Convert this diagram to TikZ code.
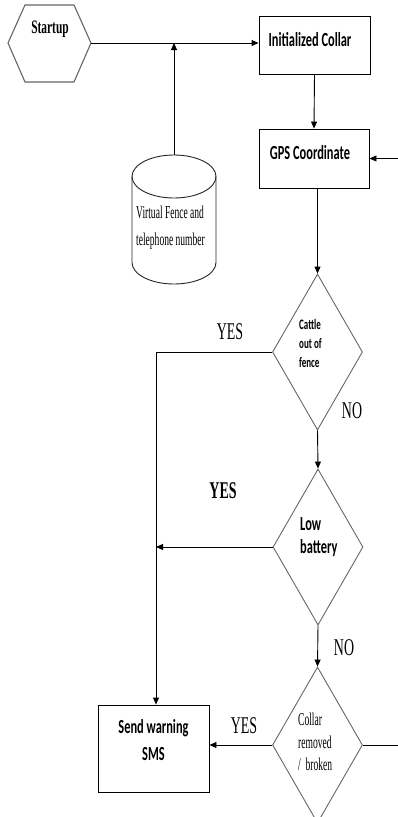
\documentclass[tikz,border=0pt]{standalone}
\usepackage{fontspec}
\usetikzlibrary{shapes.geometric,arrows.meta}
\newfontfamily\sansfam[FakeStretch=0.62]{Carlito}
\newfontfamily\serfam[FakeStretch=0.53]{Liberation Serif}
\newfontfamily\yesfam[FakeStretch=0.58]{Liberation Serif}
\newfontfamily\startfam[FakeStretch=0.6]{Liberation Serif}
\newcommand\fSansBig{\sansfam\bfseries\fontsize{20}{23}\selectfont}
\newcommand\fSansSmall{\sansfam\bfseries\fontsize{14.5}{17}\selectfont}
\newcommand\fSerText{\serfam\fontsize{18}{21}\selectfont}
\newcommand\fYes{\yesfam\fontsize{24}{27}\selectfont}
\newcommand\fStart{\startfam\bfseries\fontsize{19}{22}\selectfont}
\begin{document}
\begin{tikzpicture}[x=1pt,y=-1pt,
  box/.style={draw=black, line width=0.9pt, inner sep=0pt},
  dec/.style={diamond, draw=black!60, line width=0.9pt, inner sep=0pt, minimum width=90pt, minimum height=156pt},
  arr/.style={line width=0.9pt, -{Triangle[length=7pt,width=6pt]}},
  ln/.style={line width=0.9pt},
  txt/.style={inner sep=0pt, anchor=base},
  txtl/.style={inner sep=0pt, anchor=base west}]
\useasboundingbox (0,0) rectangle (398,817);

% Startup hexagon
\draw[draw=black!60, line width=1.1pt] (25,5) -- (74,5) -- (91,43) -- (74,82) -- (25,82) -- (8,43) -- cycle;
\coordinate (hexR) at (91,43);
\node[txt, font=\fStart] (startup) at (50,33) {Startup};

% Cylinder
\draw[ln, draw=black!85] (132,176.5) -- (132,262.5) arc[start angle=180, end angle=360, x radius=42pt, y radius=21.5pt] -- (216,176.5);
\draw[ln, draw=black!85] (174,176.5) ellipse [x radius=42pt, y radius=21.5pt];
\coordinate (cyltop) at (174,155);
\node[txtl, font=\fSerText] (vf1) at (136,218) {Virtual Fence and};
\node[txtl, font=\fSerText] (vf2) at (136,245) {telephone number};

% Boxes
\node[box, minimum width=111pt, minimum height=58pt] (init) at (314.5,45) {};
\node[txt, font=\fSansBig] (initt) at (310,46) {Initialized Collar};
\node[box, minimum width=110pt, minimum height=59pt] (gps) at (314,158.5) {};
\node[txt, font=\fSansBig] (gpst) at (310,159) {GPS Coordinate};
\node[box, minimum width=111pt, minimum height=87pt] (sms) at (153.5,748.5) {};
\node[txt, font=\fSansBig] (sms1) at (153.5,733) {Send warning};
\node[txt, font=\fSansBig] (sms2) at (153.5,760) {SMS};

% Decisions
\node[dec] (d1) at (317.5,352) {};
\node[txtl, font=\fSansSmall] (d1a) at (299,329) {Cattle};
\node[txtl, font=\fSansSmall] (d1b) at (299,348) {out of};
\node[txtl, font=\fSansSmall] (d1c) at (299,367) {fence};
\node[dec] (d2) at (318,547) {};
\node[txtl, font=\fSansBig] (d2a) at (300,530) {Low};
\node[txtl, font=\fSansBig] (d2b) at (300,553) {battery};
\node[dec] (d3) at (317.5,745) {};
\node[txtl, font=\fSerText] (d3a) at (298,725) {Collar};
\node[txtl, font=\fSerText] (d3b) at (298,748) {removed};
\node[txtl, font=\fSerText] (d3c) at (298,770) {/\ \ broken};

% Labels
\node[txt, font=\fYes] (yes1) at (230,339) {YES};
\node[txt, font=\fYes] (no1) at (352,418) {NO};
\node[txt, font=\fYes\bfseries] (yes2) at (223,498) {YES};
\node[txt, font=\fYes] (no2) at (344,655) {NO};
\node[txt, font=\fYes] (yes3) at (244,733) {YES};

% Connectors
\draw[arr] (hexR) -- (hexR -| init.west);
\draw[arr] (cyltop) -- (cyltop |- hexR);
\draw[arr] (init.south) -- (gps.north);
\coordinate (rin) at (398,158.5);
\draw[arr] (rin) -- (gps.east);
\draw[arr] (d1.north |- gps.south) -- (d1.north);
\coordinate (cornerA) at (156,352);
\draw[arr] (d1.west) -- (cornerA) -- (cornerA |- sms.north);
\draw[arr] (d1.south) -- (d2.north);
\draw[arr] (d2.west) -- (d2.west -| cornerA);
\draw[arr] (d2.south) -- (d3.north);
\draw[arr] (d3.west) -- (d3.west -| sms.east);
\coordinate (rout) at (398,745);
\draw[ln] (d3.east) -- (rout);
\end{tikzpicture}
\end{document}
